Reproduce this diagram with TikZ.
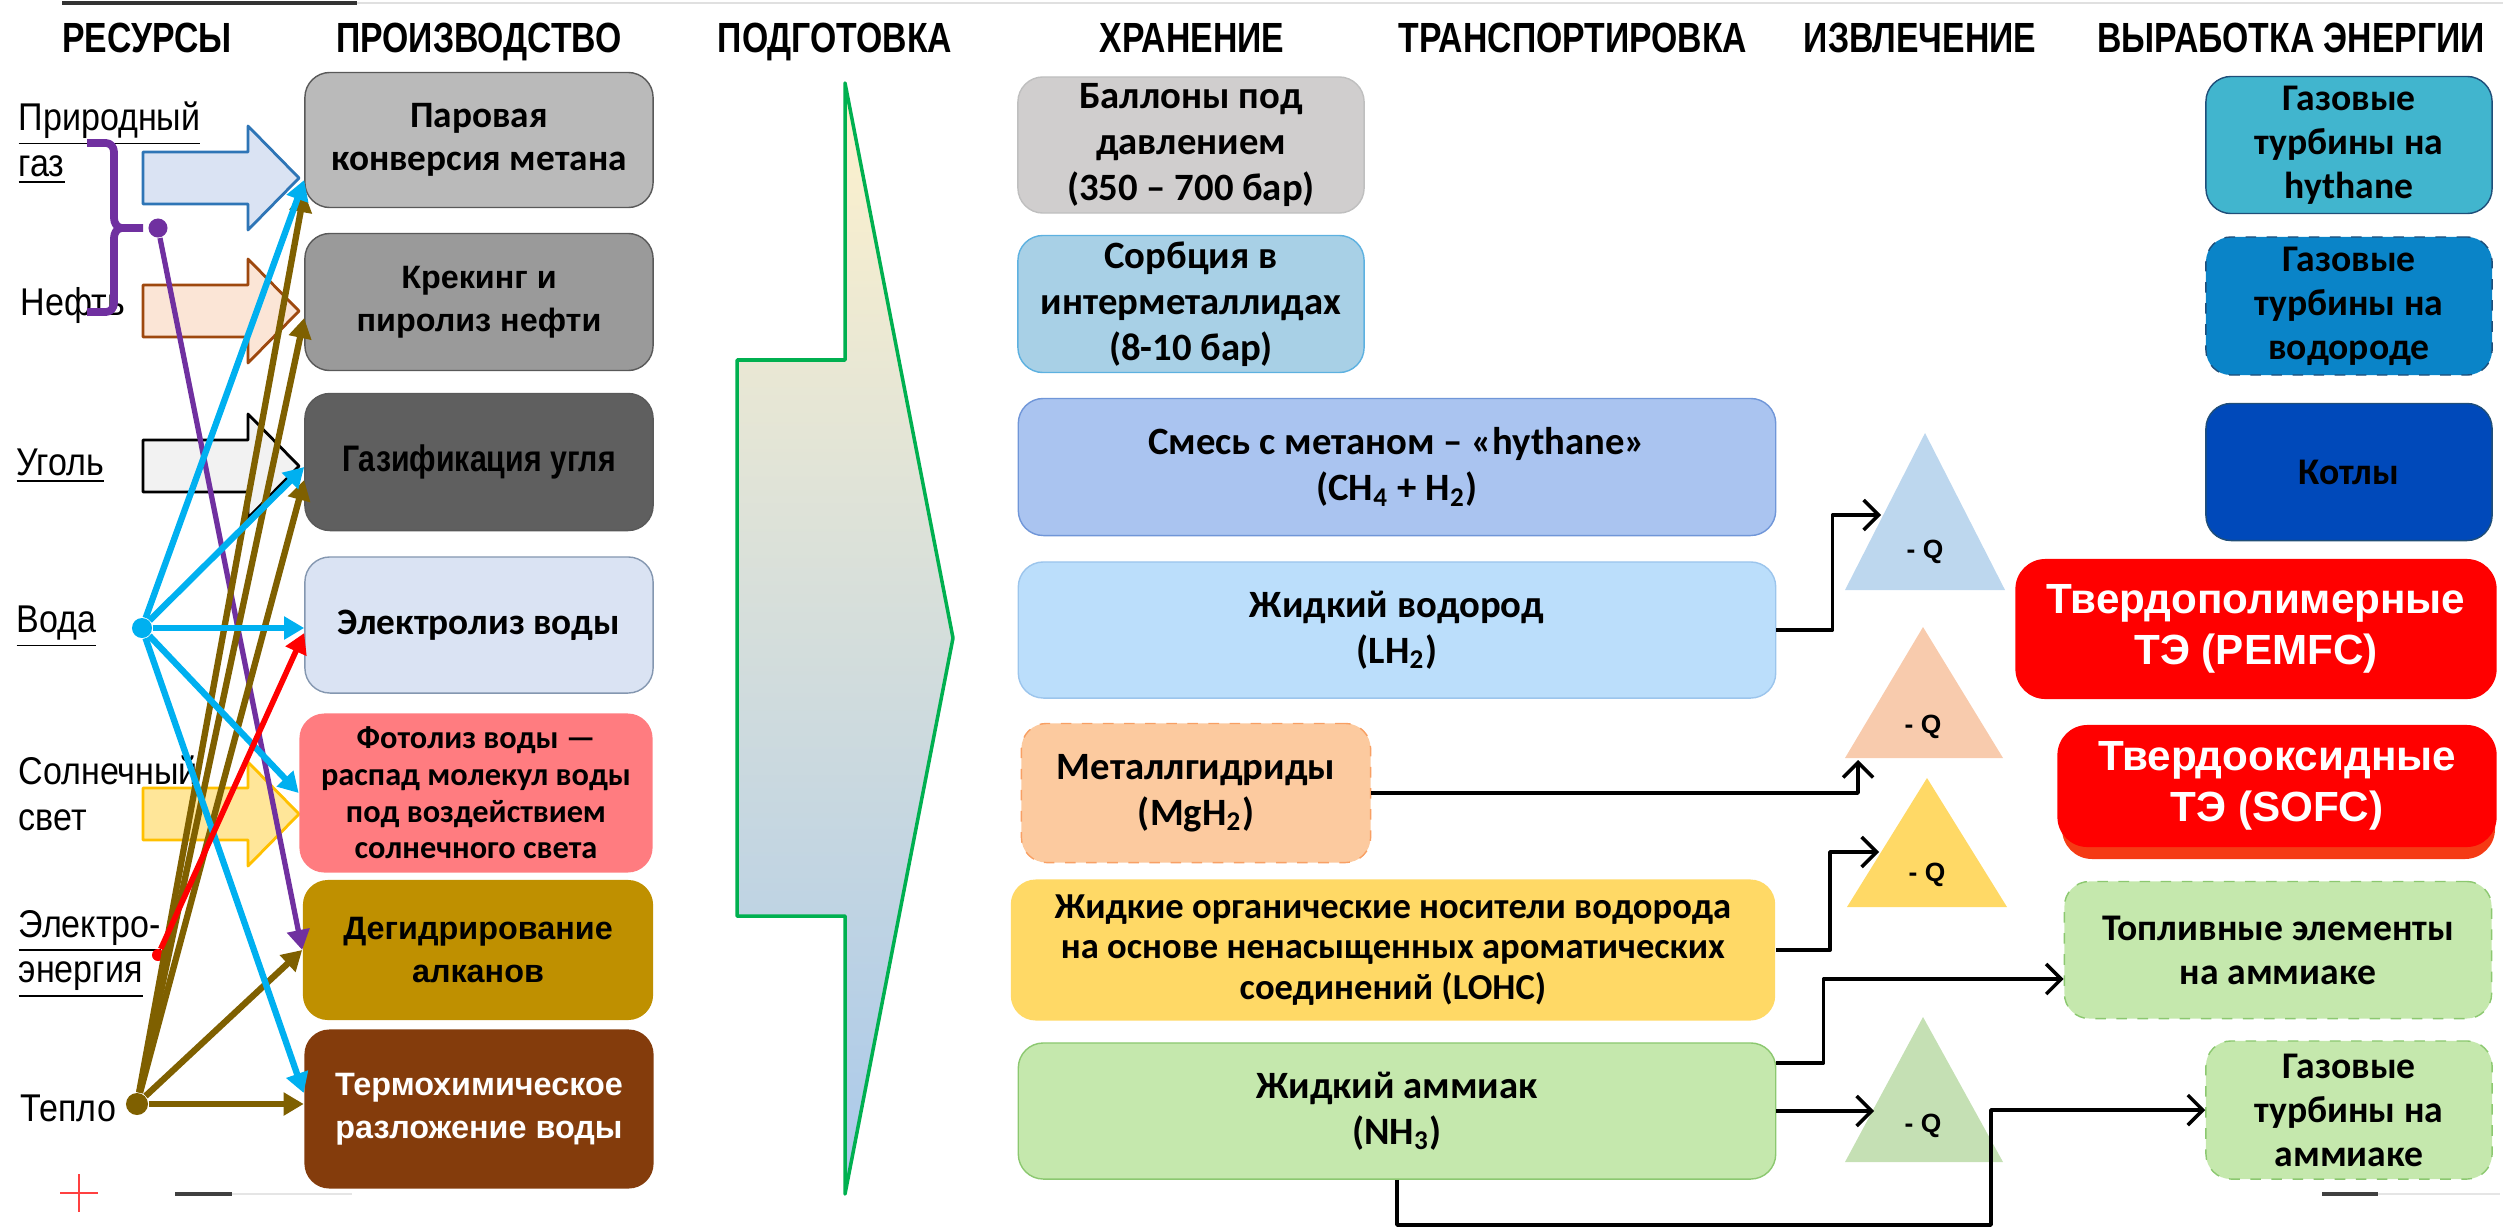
\documentclass[tikz,border=0pt]{standalone}
\usepackage{fontspec}
\setmainfont{Liberation Sans}
\newfontfamily\headfont[FakeStretch=0.8]{Liberation Sans}
\newfontfamily\resfont[FakeStretch=0.88]{Liberation Sans}
\newfontfamily\narrowfont[FakeStretch=0.82]{Liberation Sans}
\newfontfamily\calfont{Carlito}
\usetikzlibrary{arrows.meta,calc}

\definecolor{cparov}{HTML}{BABABA}
\definecolor{ckrek}{HTML}{9A9A9A}
\definecolor{cgazif}{HTML}{5F5F5F}
\definecolor{cbord}{HTML}{595959}
\definecolor{celek}{HTML}{DAE3F3}
\definecolor{celekb}{HTML}{8497B0}
\definecolor{cfoto}{HTML}{FF7C80}
\definecolor{cdeg}{HTML}{BF9000}
\definecolor{cterm}{HTML}{843C0C}
\definecolor{cball}{HTML}{D0CECE}
\definecolor{cballb}{HTML}{BFBFBF}
\definecolor{csorb}{HTML}{A8D0E6}
\definecolor{csorbb}{HTML}{5DB1E0}
\definecolor{csmes}{HTML}{AAC4F0}
\definecolor{csmesb}{HTML}{7096D8}
\definecolor{clh}{HTML}{BBDEFB}
\definecolor{clhb}{HTML}{9CC5EC}
\definecolor{cmgh}{HTML}{FCCA9F}
\definecolor{cmghb}{HTML}{F8A064}
\definecolor{clohc}{HTML}{FFD966}
\definecolor{cnh}{HTML}{C5E8AD}
\definecolor{cnhb}{HTML}{8CC870}
\definecolor{cehyt}{HTML}{41B5CE}
\definecolor{ceh2}{HTML}{0A84C8}
\definecolor{cekot}{HTML}{0049BA}
\definecolor{cedark}{HTML}{1F4E79}
\definecolor{csofcsh}{HTML}{F53A14}
\definecolor{ctria}{HTML}{BDD7EE}
\definecolor{ctrib}{HTML}{F8CBAD}
\definecolor{ctric}{HTML}{FFD966}
\definecolor{ctrid}{HTML}{C5E0B4}
\definecolor{cgasf}{HTML}{DAE3F3}
\definecolor{cgasd}{HTML}{2E75B6}
\definecolor{coilf}{HTML}{FBE5D6}
\definecolor{coild}{HTML}{9E480E}
\definecolor{ccoalf}{HTML}{F2F2F2}
\definecolor{csunf}{HTML}{FFE699}
\definecolor{csund}{HTML}{FFC000}
\definecolor{ccyan}{HTML}{00B0F0}
\definecolor{cbrown}{HTML}{7F6000}
\definecolor{cpurp}{HTML}{7030A0}
\definecolor{cprep}{HTML}{00B050}
\definecolor{preptop}{HTML}{FFF2CC}
\definecolor{prepbot}{HTML}{A9C9EB}

\begin{document}
\begin{tikzpicture}[x=0.01cm, y=-0.01cm, line join=round,
	head/.style={font=\fontsize{12}{13}\selectfont\headfont\bfseries, anchor=base},
	res/.style={anchor=west, align=left, inner sep=0pt, font=\fontsize{11}{13}\selectfont\resfont},
	box/.style={rounded corners=0.25cm, align=center, inner sep=1pt},
	prod/.style={box, minimum width=3.48cm, font=\fontsize{9.2}{12.3}\selectfont\bfseries},
	prodc/.style={prod, font=\fontsize{10.6}{12.3}\selectfont\calfont\bfseries},
	stor/.style={box, minimum height=1.36cm, font=\fontsize{11}{13}\selectfont\calfont\bfseries},
	enrg/.style={box, minimum width=2.86cm, minimum height=1.37cm, font=\fontsize{10.7}{12.5}\selectfont\calfont\bfseries},
	fcell/.style={box, rounded corners=0.3cm, fill=red, text=white, font=\fontsize{12}{14.6}\selectfont\bfseries},
	qlab/.style={font=\fontsize{7.5}{9}\selectfont\bfseries},
	conn/.style={line width=1pt, -{Straight Barb[length=1.5mm,width=3mm]}},
	feed/.style={line width=1.8pt, -{Triangle[length=2mm,width=2.2mm]}},
	knot/.style={circle, fill, inner sep=0pt, minimum size=0.2cm}]
	\useasboundingbox (0,0) rectangle (2503,1227);
	% page rules
	\draw[black!12, line width=0.8pt] (62,3) -- (2503,3);
	\draw[black!80, line width=1pt] (62,3) -- (357,3);
	\draw[red!75, line width=0.6pt] (60,1193) -- (98,1193) (79,1174) -- (79,1212);
	\draw[black!10, line width=0.8pt] (232,1194) -- (352,1194) (2378,1194) -- (2500,1194);
	\draw[black!75, line width=1pt] (175,1194) -- (232,1194) (2322,1194) -- (2378,1194);
	% headings
	\node[head] (hres) at (147,52) {РЕСУРСЫ};
	\node[head] (hprod) at (479,52) {ПРОИЗВОДСТВО};
	\node[head] (hprep) at (835,52) {ПОДГОТОВКА};
	\node[head] (hstor) at (1192,52) {ХРАНЕНИЕ};
	\node[head] (htran) at (1573,52) {ТРАНСПОРТИРОВКА};
	\node[head] (hextr) at (1920,52) {ИЗВЛЕЧЕНИЕ};
	\node[head] (hgen) at (2291,52) {ВЫРАБОТКА ЭНЕРГИИ};
	% resources
	\node[res] (rgas) at (18,143) {\underline{Природный}\\\underline{газ}};
	\node[res] (roil) at (20,305) {Нефть};
	\node[res] (rcoal) at (16,466) {\underline{Уголь}};
	\node[res] (rwat) at (16,627) {\underline{Вода}};
	\node[res] (rsun) at (18,793) {Солнечный\\свет};
	\node[res] (rel) at (18,954) {\underline{Электро-}\\\underline{энергия}};
	\node[res] (rheat) at (20,1108) {Тепло};
	\foreach \yc/\fc/\dc in {178/cgasf/cgasd, 311/coilf/coild, 466/ccoalf/black, 814/csunf/csund}
		\draw[fill=\fc, draw=\dc, line width=0.8pt] (143,\yc-26) -- (248,\yc-26) -- (248,\yc-52)
			-- (299,\yc) -- (248,\yc+52) -- (248,\yc+26) -- (143,\yc+26) -- cycle;
	% production
	\node[prodc, fill=cparov, draw=cbord, minimum height=1.35cm] (parov) at (479,140) {Паровая\\конверсия метана};
	\node[prod, fill=ckrek, draw=cbord, minimum height=1.37cm] (krek) at (479,302) {Крекинг и\\пиролиз нефти};
	\node[prod, fill=cgazif, draw=cbord, minimum height=1.37cm, font=\fontsize{10.5}{12}\selectfont\narrowfont\bfseries] (gazif) at (479,462) {Газификация угля};
	\node[prodc, fill=celek, draw=celekb, minimum height=1.36cm] (elek) at (479,625) {Электролиз воды};
	\node[prodc, fill=cfoto, minimum width=3.53cm, minimum height=1.59cm, font=\fontsize{9.2}{10.4}\selectfont\calfont\bfseries] (foto) at (476,793) {Фотолиз воды —\\распад молекул воды\\под воздействием\\солнечного света};
	\node[prod, fill=cdeg, minimum width=3.5cm, minimum height=1.4cm] (degid) at (478,950) {Дегидрирование\\алканов};
	\node[prod, fill=cterm, text=white, minimum width=3.49cm, minimum height=1.59cm] (termo) at (479,1109) {Термохимическое\\разложение воды};
	% feeds
	\draw[cpurp, line width=2.2pt] (87,143) -- (106,143) to[out=0,in=90] (114,152) -- (114,218)
		to[out=-90,in=180] (122,228) -- (143,228) (122,228) to[out=180,in=90] (114,238)
		-- (114,303) to[out=-90,in=0] (106,312) -- (87,312);
	\node[knot, cpurp, minimum size=0.19cm] (kgas) at (158,228) {};
	\node[knot, ccyan] (kwat) at (142,628) {};
	\node[knot, cbrown, minimum size=0.22cm] (kheat) at (137,1104) {};
	\node[knot, red, minimum size=0.12cm] (kel) at (158,955) {};
	\draw[feed, cpurp, line width=1.5pt] (kgas) -- (degid.west);
	\draw[feed, cbrown] (kheat) -- ([yshift=-0.52cm]parov.west);
	\draw[feed, cbrown] (kheat) -- ([yshift=-0.16cm]krek.west);
	\draw[feed, cbrown] (kheat) -- ([yshift=-0.18cm]gazif.west);
	\draw[feed, cbrown] (kheat) -- (degid.west);
	\draw[feed, cbrown] (kheat) -- (termo.west |- kheat);
	\draw[feed, ccyan] (kwat) -- ([yshift=-0.4cm]parov.west);
	\draw[feed, ccyan] (kwat) -- ([yshift=-0.05cm]gazif.west);
	\draw[feed, ccyan] (kwat) -- (elek.west |- kwat);
	\draw[feed, ccyan] (kwat) -- (foto.west);
	\draw[feed, ccyan] (kwat) -- ([yshift=0.16cm]termo.west);
	\draw[feed, red, line width=1.6pt] (kel) -- ([yshift=-0.08cm]elek.west);
	% preparation
	\draw[cprep, line width=1pt, top color=preptop, bottom color=prepbot] (845,83) -- (953,638) -- (845,1194)
		-- (845,916) -- (737,916) -- (737,360) -- (845,360) -- cycle;
	% storage
	\node[stor, fill=cball, draw=cballb, minimum width=3.46cm] (ball) at (1191,145) {Баллоны под\\давлением\\(350 – 700 бар)};
	\node[stor, fill=csorb, draw=csorbb, minimum width=3.46cm, minimum height=1.37cm] (sorb) at (1191,304) {Сорбция в\\интерметаллидах\\(8-10 бар)};
	\node[stor, fill=csmes, draw=csmesb, minimum width=7.57cm, minimum height=1.37cm] (smes) at (1397,467) {Смесь с метаном – «hythane»\\(CH\textsubscript{4} + H\textsubscript{2})};
	\node[stor, fill=clh, draw=clhb, minimum width=7.57cm] (lh) at (1397,630) {Жидкий водород\\(LH\textsubscript{2})};
	\node[stor, fill=cmgh, draw=cmghb, dashed, minimum width=3.49cm, minimum height=1.39cm] (mgh) at (1196,793) {Металлгидриды\\(MgH\textsubscript{2})};
	\node[stor, fill=clohc, minimum width=7.64cm, minimum height=1.41cm, font=\fontsize{10.4}{11.4}\selectfont\calfont\bfseries] (lohc) at (1393,950) {Жидкие органические носители водорода\\на основе ненасыщенных ароматических\\соединений (LOHC)};
	\node[stor, fill=cnh, draw=cnhb, minimum width=7.57cm] (nh) at (1397,1111) {Жидкий аммиак\\(NH\textsubscript{3})};
	% extraction
	\fill[ctria] (1925,433) -- (2005,590) -- (1845,590) -- cycle;
	\fill[ctrib] (1923,627) -- (2003,758) -- (1845,758) -- cycle;
	\fill[ctric] (1927,778) -- (2007,907) -- (1847,907) -- cycle;
	\fill[ctrid] (1923,1017) -- (2003,1162) -- (1845,1162) -- cycle;
	\node[qlab] (qa) at (1925,552) {- Q};
	\node[qlab] (qb) at (1923,727) {- Q};
	\node[qlab] (qc) at (1927,875) {- Q};
	\node[qlab] (qd) at (1923,1126) {- Q};
	\coordinate (ina) at (1881,515);
	\coordinate (inb) at (1858,760);
	\coordinate (inc) at (1879,852);
	\coordinate (ind) at (1874,1111);
	\coordinate (loop) at (1991,1225);
	% energy
	\node[enrg, fill=cehyt, draw=cedark] (ehyt) at (2349,145) {Газовые\\турбины на\\hythane};
	\node[enrg, fill=ceh2, draw=cedark, dashed, minimum height=1.38cm] (eh2) at (2349,306) {Газовые\\турбины на\\водороде};
	\node[enrg, fill=cekot, draw=cedark] (ekot) at (2349,472) {Котлы};
	\node[fcell, minimum width=4.81cm, minimum height=1.4cm] (pem) at (2256,629) {Твердополимерные\\ТЭ (PEMFC)};
	\fill[csofcsh, rounded corners=0.3cm] (2062,740) rectangle (2495,859);
	\node[fcell, minimum width=4.39cm, minimum height=1.22cm] (sofc) at (2277,786) {Твердооксидные\\ТЭ (SOFC)};
	\node[enrg, fill=cnh, draw=cnhb, dashed, minimum width=4.27cm] (fcnh) at (2278,950) {Топливные элементы\\на аммиаке};
	\node[enrg, fill=cnh, draw=cnhb, dashed, minimum height=1.38cm] (gtnh) at (2349,1110) {Газовые\\турбины на\\аммиаке};
	% transport lines
	\draw[conn] (lh.east) -- ++(56,0) |- (ina);
	\draw[conn] (mgh.east) -| (inb);
	\draw[conn] (lohc.east) -- ++(54,0) |- (inc);
	\draw[conn] ([yshift=0.48cm]nh.east) -- ++(47,0) |- ([yshift=-0.29cm]fcnh.west);
	\draw[conn] (nh.east) -- (ind);
	\draw[conn] (nh.south) |- (loop) |- (gtnh.west);
\end{tikzpicture}
\end{document}
